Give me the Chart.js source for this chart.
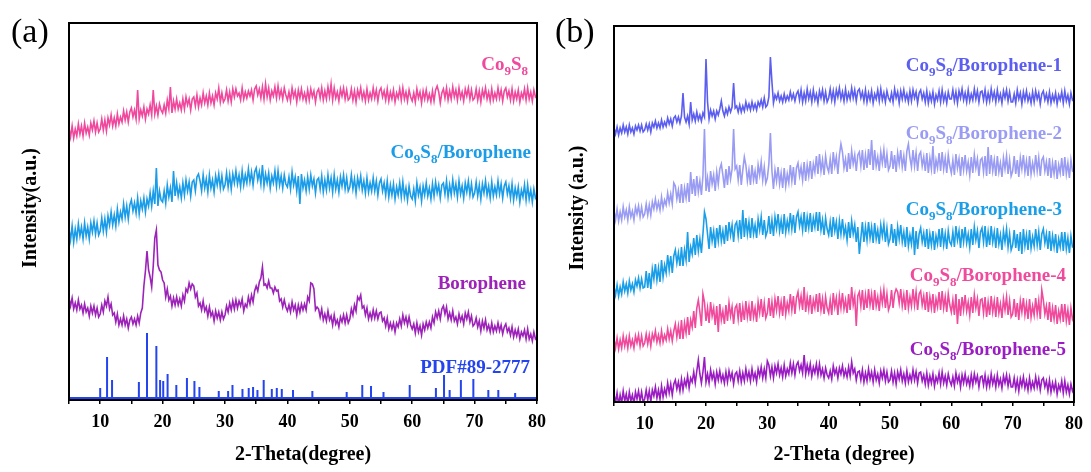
<!DOCTYPE html>
<html>
<head>
<meta charset="utf-8">
<script src="https://cdn.jsdelivr.net/npm/chart.js@4.4.0/dist/chart.umd.min.js"></script>
<style>
  html, body { margin: 0; padding: 0; background: #fff; }
  #wrap { position: relative; width: 1091px; height: 472px; overflow: hidden; }
  canvas { position: absolute; top: 0; }
  #chartA { left: 0; }
  #chartB { left: 545px; }
</style>
</head>
<body>
<div id="wrap">
  <canvas id="chartA" width="560" height="472"></canvas>
  <canvas id="chartB" width="546" height="472"></canvas>
</div>
<script>
// grille 2-theta : 5° a 80°, pas de 0.25° (20 valeurs par ligne = 5°)
const thetaStart = 5;
const thetaStep = 0.25;
const xTicks = [10, 20, 30, 40, 50, 60, 70, 80];

// (a) intensites relevees (unites arbitraires, decalees)
const co9s8 = [
  272,263,274,262,271,264,276,266,274,264,277,267,273,265,277,270,279,268,277,268,
  271,281,270,280,269,282,275,285,274,282,274,286,276,283,278,289,280,288,278,288,
  292,283,290,281,310,281,290,284,293,281,291,286,295,285,310,286,294,285,296,290,
  287,295,287,300,291,313,287,299,291,301,291,297,290,301,291,303,295,301,290,301,
  303,294,305,293,302,295,307,297,304,295,307,297,304,295,307,301,312,298,307,298,
  301,310,299,308,298,311,303,311,304,307,300,312,301,308,302,309,304,310,300,311,
  314,305,311,302,313,301,316,303,312,300,309,304,313,302,314,303,310,301,312,305,
  300,308,299,312,303,309,298,310,302,311,301,307,299,310,300,311,303,309,298,308,
  311,302,312,300,309,301,313,303,316,300,312,302,308,299,311,304,312,301,310,300,
  302,311,300,309,298,310,303,312,301,308,299,311,300,307,301,312,302,310,299,309,
  312,303,309,300,311,299,308,301,310,298,307,302,311,300,312,301,308,299,310,303,
  299,307,298,311,302,308,297,309,301,310,300,306,298,309,299,310,314,308,297,307,
  311,302,312,300,309,301,313,303,310,300,312,302,308,299,311,304,312,301,310,300,
  302,311,300,309,298,310,303,312,301,308,299,311,300,307,301,312,302,310,299,309,
  312,303,309,300,311,299,308,301,310,298,307,302,311,300,312,301,308,299,310,303,
  305
];
const co9s8Borophene = [
  171,160,174,158,171,161,176,164,173,161,177,164,173,161,177,168,179,166,177,165,
  169,182,169,181,168,184,175,188,175,185,174,191,178,188,181,196,183,194,181,195,
  200,189,197,187,202,186,199,191,202,188,201,194,207,194,209,196,232,194,209,200,
  198,209,197,215,203,212,198,229,204,217,204,213,202,217,205,220,209,218,204,218,
  220,209,223,226,219,209,225,212,221,208,225,212,220,208,224,215,226,212,224,211,
  215,227,213,225,211,226,217,229,216,225,213,229,215,225,217,231,218,228,215,228,
  232,220,228,216,235,214,226,217,227,212,224,217,229,214,229,215,224,212,225,216,
  213,223,211,228,215,223,209,224,196,226,212,220,209,223,211,225,214,221,207,220,
  222,211,224,208,220,210,225,212,222,208,225,211,220,208,223,214,225,211,222,209,
  213,225,211,221,207,222,213,224,210,219,207,222,208,217,209,222,209,219,205,217,
  221,209,217,205,219,203,215,205,216,201,213,205,217,203,218,203,212,200,214,204,
  201,211,199,217,205,213,199,214,205,217,204,212,201,216,204,218,207,215,202,215,
  217,206,219,203,215,205,220,207,216,203,219,206,214,202,217,208,219,205,216,203,
  207,218,204,215,201,216,207,219,205,214,202,218,204,213,205,219,206,216,202,214,
  218,206,214,202,216,200,212,203,213,198,210,203,215,200,215,201,210,198,211,202,
  205
];
const borophene = [
  102,94,102,91,97,90,100,91,95,87,96,88,92,84,94,87,94,85,92,83,
  86,95,88,99,94,103,91,96,85,87,78,86,75,81,75,84,75,81,72,80,
  83,76,81,75,84,77,87,92,114,129,149,130,123,113,134,162,170,135,130,128,
  120,117,103,111,100,104,94,102,95,103,95,101,94,105,99,111,108,117,111,116,
  114,103,107,94,97,90,99,89,93,84,93,84,88,79,89,82,88,80,88,81,
  85,94,88,97,90,99,91,100,92,99,94,101,89,96,93,103,96,105,98,109,
  114,109,118,122,133,115,116,112,119,112,112,107,113,109,110,99,101,93,100,93,
  89,95,88,98,90,95,85,95,88,96,90,96,90,103,99,117,116,111,90,93,
  91,83,91,80,86,79,89,80,84,75,85,76,80,73,83,78,85,77,85,77,
  81,91,85,95,89,103,100,105,92,94,85,92,81,87,81,90,82,89,81,87,
  88,79,82,74,82,71,77,71,77,68,77,73,81,74,85,77,83,75,83,75,
  71,76,67,77,68,74,65,76,70,78,72,78,72,83,77,88,82,89,81,91,
  94,86,93,81,87,80,89,79,83,76,86,79,84,76,87,81,88,78,84,74,
  76,82,73,79,69,79,72,80,70,75,68,77,68,74,69,77,69,75,66,73,
  76,68,72,65,73,63,70,64,71,61,68,64,70,61,71,61,66,59,68,61,
  63
];
// carte de reference PDF#89-2777
const pdfPeakPos = [10.0, 11.1, 11.9, 16.2, 17.5, 19.0, 19.6, 20.1, 20.8, 22.2, 23.9, 25.1, 25.9,
  29.0, 30.5, 31.2, 32.8, 33.8, 34.5, 35.2, 36.2, 37.5, 38.3, 39.1, 40.9, 44.0, 49.5, 52.0,
  53.4, 55.4, 59.6, 63.8, 65.1, 66.0, 67.8, 69.8, 72.2, 73.8, 76.5];
const pdfPeakHeight = [10, 41, 18, 16, 65, 52, 18, 17, 24, 13, 20, 17, 11,
  7, 7, 13, 9, 10, 11, 8, 18, 9, 10, 9, 8, 7, 6, 13,
  12, 6, 13, 10, 23, 8, 18, 19, 8, 8, 5];
const pdfBase = 2;

// (b) echantillons 1 a 5
const borophene1 = [
  274,268,275,267,274,269,277,270,275,268,277,270,274,268,276,272,277,271,277,270,
  272,278,272,278,270,279,275,281,274,279,274,282,275,280,276,284,278,283,276,284,
  286,280,285,279,286,309,285,280,286,278,300,282,288,281,290,282,287,281,289,285,
  343,300,283,292,286,291,283,291,287,293,301,291,286,293,288,295,290,295,319,294,
  296,290,297,290,296,291,300,293,298,292,300,293,298,292,300,296,302,295,304,295,
  297,305,345,320,299,307,303,309,301,306,300,308,301,306,302,310,303,308,301,308,
  311,302,312,300,309,301,313,303,310,300,312,302,308,299,311,304,312,301,310,300,
  304,313,302,311,300,312,305,314,303,310,301,313,302,309,303,314,304,312,301,311,
  313,304,310,301,312,300,309,302,311,299,308,303,312,301,313,302,309,300,311,304,
  301,309,300,313,304,310,299,311,303,312,302,308,300,311,301,312,304,310,299,309,
  312,303,309,300,311,299,308,301,310,298,307,302,311,300,312,301,308,299,310,303,
  303,312,301,310,299,311,304,313,302,309,300,312,301,308,302,313,303,311,300,310,
  311,302,312,300,309,301,313,303,310,300,312,302,308,299,311,304,312,301,310,300,
  300,308,299,312,303,309,298,310,302,311,301,307,299,310,300,311,303,309,298,308,
  311,302,308,300,310,299,307,301,309,298,307,302,310,299,311,301,307,298,309,302,
  304
];
const borophene2 = [
  191,182,193,181,190,182,195,185,192,182,195,185,191,182,195,188,196,185,195,185,
  188,198,187,197,187,200,193,203,193,200,192,205,194,202,197,209,199,208,198,219,
  216,203,212,199,218,199,214,204,219,200,230,208,223,206,226,210,221,207,226,273,
  211,224,210,231,218,227,211,230,218,233,238,227,214,233,217,236,223,233,273,233,
  236,222,237,217,232,245,237,221,232,217,237,222,231,218,237,227,240,222,235,219,
  224,238,269,231,213,232,221,235,218,229,214,234,216,228,219,237,221,235,217,234,
  239,226,235,222,240,221,237,226,241,223,238,230,246,228,248,231,242,227,246,235,
  230,243,228,250,236,245,228,247,258,250,234,243,230,249,233,251,238,247,231,247,
  250,236,252,232,247,234,253,237,262,232,252,236,245,231,250,239,252,234,248,232,
  236,251,233,247,230,249,238,252,235,246,231,251,258,244,235,252,236,249,231,247,
  250,236,245,231,249,229,244,233,256,228,242,234,249,231,250,233,244,229,247,236,
  229,242,227,248,234,243,226,245,232,247,231,240,227,245,229,247,234,243,226,242,
  244,230,246,226,255,228,247,231,242,226,246,230,239,225,244,233,246,228,242,226,
  231,246,228,242,225,244,233,247,230,241,226,246,228,239,230,247,231,244,226,242,
  245,231,240,226,244,224,239,228,242,223,237,229,244,226,245,228,239,224,242,231,
  230
];
const borophene3 = [
  115,107,117,106,115,108,120,111,118,109,121,112,118,110,122,116,124,114,123,114,
  115,131,114,129,113,133,123,138,122,134,120,142,125,137,129,147,132,146,129,146,
  152,139,149,136,155,136,152,142,170,140,155,148,164,147,167,151,163,149,168,190,
  183,168,153,175,161,171,154,174,161,177,161,171,158,177,161,180,167,177,160,177,
  180,166,182,163,192,165,184,168,180,164,184,168,177,164,183,172,185,167,182,166,
  171,186,168,182,166,185,174,188,171,182,168,188,170,181,172,189,173,187,169,185,
  190,176,185,172,190,170,185,174,189,170,184,175,190,171,190,172,182,167,184,173,
  167,180,165,185,171,180,163,181,168,183,167,175,162,180,164,181,168,177,160,175,
  148,164,180,160,175,162,180,164,175,159,179,163,172,158,177,166,178,160,174,158,
  163,178,159,173,156,175,163,177,160,170,155,175,156,167,158,175,147,171,153,168,
  174,160,169,155,173,153,168,157,171,152,166,158,173,155,174,157,168,153,171,160,
  157,170,155,176,162,171,154,173,160,175,159,168,155,173,157,175,162,171,154,170,
  174,160,176,155,170,157,176,160,170,154,174,158,167,152,171,160,173,155,168,152,
  157,172,154,168,151,170,148,173,156,167,152,172,154,165,156,173,157,170,152,168,
  173,159,168,153,171,151,166,155,168,149,163,155,170,151,170,153,164,149,166,155,
  155
];
const borophene4 = [
  63,54,64,53,62,54,66,56,64,54,66,56,62,54,66,59,67,56,66,56,
  59,68,58,67,56,68,62,71,60,67,59,71,60,67,62,73,63,71,61,71,
  78,65,76,63,82,63,79,69,85,67,82,75,91,74,94,102,90,76,108,100,
  81,94,79,100,86,94,77,96,70,98,82,91,78,97,81,99,86,95,78,94,
  97,83,99,80,95,82,101,85,96,81,101,85,94,80,100,89,103,85,99,84,
  89,104,86,100,84,103,92,106,89,100,86,106,88,99,91,108,92,106,88,104,
  110,96,106,92,115,90,105,93,107,88,102,94,108,90,109,92,103,88,105,94,
  89,102,87,109,95,104,87,106,94,109,93,102,89,108,92,115,97,106,76,106,
  110,96,112,92,107,94,113,97,108,92,112,96,105,91,110,99,112,94,108,92,
  97,112,94,108,113,110,99,113,96,107,92,112,94,105,96,113,97,110,92,108,
  111,97,106,92,110,90,105,94,108,89,103,95,110,92,111,94,105,90,108,97,
  90,102,87,108,78,103,86,105,92,107,91,100,87,105,89,107,94,103,86,102,
  103,89,105,85,100,87,106,90,101,85,105,89,98,84,103,92,105,87,101,85,
  88,103,85,99,82,101,90,104,87,98,83,103,85,96,87,104,88,101,83,112,
  102,88,96,82,100,80,94,83,97,78,91,83,98,80,98,81,92,77,94,83,
  87
];
const borophene5 = [
  8,-1,9,-3,7,-1,11,1,8,-2,10,1,7,-2,10,3,11,1,10,0,
  3,12,2,11,0,12,6,15,4,12,3,16,5,13,7,19,9,18,7,18,
  22,13,20,11,23,12,22,16,26,14,24,20,30,19,31,42,28,19,30,45,
  20,28,19,32,23,29,18,30,22,31,21,27,19,30,20,31,23,29,18,28,
  30,21,31,20,29,21,33,23,30,21,33,23,29,20,33,26,35,24,33,24,
  41,37,26,35,24,36,29,38,27,34,25,37,26,33,28,39,29,38,27,37,
  40,31,37,29,47,28,37,29,38,26,35,29,38,27,38,27,33,24,34,27,
  24,31,23,36,28,33,24,34,28,36,26,32,25,35,26,40,29,33,22,30,
  31,22,32,20,29,21,33,23,30,20,32,22,28,19,31,24,32,21,30,20,
  22,31,20,29,18,30,23,32,21,28,19,31,20,27,21,32,22,30,19,29,
  30,21,27,18,29,17,26,19,28,16,25,20,29,18,30,19,26,17,28,21,
  17,25,16,29,20,26,15,27,19,28,18,24,16,27,17,28,20,26,15,25,
  26,17,27,15,24,16,28,18,25,15,27,17,23,14,26,19,27,16,25,15,
  15,24,13,22,11,23,16,25,14,21,12,24,13,20,14,25,15,23,12,22,
  24,15,21,11,22,10,19,12,20,8,17,12,21,9,21,10,17,8,18,11,
  15
];

const SERIF = '"Liberation Serif", "Times New Roman", serif';

function toPoints(values) {
  return values.map((v, i) => ({ x: thetaStart + i * thetaStep, y: v }));
}

function pdfSticks() {
  const pts = [{ x: 5, y: pdfBase }];
  pdfPeakPos.forEach((p, i) => {
    pts.push({ x: p, y: pdfBase }, { x: p, y: pdfBase + pdfPeakHeight[i] }, { x: p, y: pdfBase });
  });
  pts.push({ x: 80, y: pdfBase });
  return pts;
}

function lineSet(label, data, color, width) {
  return {
    label: label,
    data: data,
    borderColor: color,
    backgroundColor: color,
    borderWidth: width || 1.6,
    pointRadius: 0,
    tension: 0,
    fill: false
  };
}

// Co9S8 -> Co + indice 9 + S + indice 8
function formulaParts(text) {
  const m = text.match(/^Co9S8(.*)$/);
  if (!m) return [[text, false]];
  return [['Co', false], ['9', true], ['S', false], ['8', true], [m[1], false]].filter(p => p[0]);
}

function drawFormulaLabel(ctx, text, color, right, y) {
  const parts = formulaParts(text);
  const mainFont = 'bold 19px ' + SERIF;
  const subFont = 'bold 13px ' + SERIF;
  ctx.save();
  let total = 0;
  parts.forEach(p => {
    ctx.font = p[1] ? subFont : mainFont;
    total += ctx.measureText(p[0]).width;
  });
  let x = right - total;
  ctx.fillStyle = color;
  ctx.textAlign = 'left';
  ctx.textBaseline = 'alphabetic';
  parts.forEach(p => {
    ctx.font = p[1] ? subFont : mainFont;
    ctx.fillText(p[0], x, y + 6 + (p[1] ? 5 : 0));
    x += ctx.measureText(p[0]).width;
  });
  ctx.restore();
}

const panelDecor = {
  id: 'panelDecor',
  afterDraw(chart, args, opts) {
    const ctx = chart.ctx;
    const a = chart.chartArea;
    ctx.save();
    ctx.strokeStyle = '#000';
    ctx.lineWidth = 2;
    ctx.strokeRect(a.left, a.top, a.right - a.left, a.bottom - a.top);

    ctx.fillStyle = '#000';
    ctx.font = '34px ' + SERIF;
    ctx.textAlign = 'left';
    ctx.textBaseline = 'alphabetic';
    ctx.fillText(opts.letter, opts.letterX, opts.letterY);

    ctx.translate(opts.yTitleX, opts.yTitleY);
    ctx.rotate(-Math.PI / 2);
    ctx.font = 'bold 20px ' + SERIF;
    ctx.textAlign = 'center';
    ctx.textBaseline = 'middle';
    ctx.fillText(opts.yTitle, 0, 0);
    ctx.restore();

    opts.labels.forEach(l => drawFormulaLabel(ctx, l.text, l.color, l.right, l.y));
  }
};

function makeOptions(cfg) {
  return {
    responsive: false,
    animation: false,
    events: [],
    layout: { padding: { left: cfg.padLeft, right: cfg.padRight, top: cfg.padTop, bottom: 0 } },
    plugins: {
      legend: { display: false },
      tooltip: { enabled: false },
      panelDecor: cfg.decor
    },
    scales: {
      x: {
        type: 'linear',
        min: 5,
        max: 80,
        afterFit: scale => { scale.height = cfg.xHeight; },
        ticks: {
          stepSize: 5,
          autoSkip: false,
          maxRotation: 0,
          padding: 8,
          color: '#000',
          font: { family: SERIF, size: 18, weight: 'bold' },
          callback: v => (xTicks.includes(v) ? String(v) : '')
        },
        grid: {
          display: true,
          drawOnChartArea: false,
          drawTicks: true,
          tickLength: 4,
          color: '#000',
          lineWidth: 1.5
        },
        border: { display: true, color: '#000', width: 2 },
        title: {
          display: true,
          text: cfg.xTitle,
          color: '#000',
          font: { family: SERIF, size: 20, weight: 'bold' },
          padding: { top: 0, bottom: 5 }
        }
      },
      y: {
        display: false,
        min: 0,
        max: cfg.yMax
      }
    }
  };
}

new Chart(document.getElementById('chartA'), {
  type: 'line',
  data: {
    datasets: [
      lineSet('Co9S8', toPoints(co9s8), '#f0489c'),
      lineSet('Co9S8/Borophene', toPoints(co9s8Borophene), '#1a9ce8'),
      lineSet('Borophene', toPoints(borophene), '#9c22b8'),
      lineSet('PDF#89-2777', pdfSticks(), '#2444ee', 2)
    ]
  },
  options: makeOptions({
    padLeft: 69, padRight: 23, padTop: 23, xHeight: 72, yMax: 377,
    xTitle: '2-Theta(degree)',
    decor: {
      letter: '(a)', letterX: 11, letterY: 42,
      yTitle: 'Intensity(a.u.)', yTitleX: 31, yTitleY: 208,
      labels: [
        { text: 'Co9S8', color: '#f0489c', right: 528, y: 64 },
        { text: 'Co9S8/Borophene', color: '#1a9ce8', right: 531, y: 152 },
        { text: 'Borophene', color: '#9c22b8', right: 526, y: 283 },
        { text: 'PDF#89-2777', color: '#2444ee', right: 530, y: 367 }
      ]
    }
  }),
  plugins: [panelDecor]
});

const colorsB = ['#5c5ef0', '#9a9cf4', '#1a9ee8', '#f04a9c', '#9a1cc2'];
new Chart(document.getElementById('chartB'), {
  type: 'line',
  data: {
    datasets: [
      lineSet('Co9S8/Borophene-1', toPoints(borophene1), colorsB[0]),
      lineSet('Co9S8/Borophene-2', toPoints(borophene2), colorsB[1]),
      lineSet('Co9S8/Borophene-3', toPoints(borophene3), colorsB[2]),
      lineSet('Co9S8/Borophene-4', toPoints(borophene4), colorsB[3]),
      lineSet('Co9S8/Borophene-5', toPoints(borophene5), colorsB[4])
    ]
  },
  options: makeOptions({
    padLeft: 69, padRight: 11, padTop: 26, xHeight: 70, yMax: 376,
    xTitle: '2-Theta (degree)',
    decor: {
      letter: '(b)', letterX: 10, letterY: 42,
      yTitle: 'Intensity (a.u.)', yTitleX: 33, yTitleY: 208,
      labels: [
        { text: 'Co9S8/Borophene-1', color: colorsB[0], right: 517, y: 65 },
        { text: 'Co9S8/Borophene-2', color: colorsB[1], right: 517, y: 133 },
        { text: 'Co9S8/Borophene-3', color: colorsB[2], right: 517, y: 209 },
        { text: 'Co9S8/Borophene-4', color: colorsB[3], right: 521, y: 275 },
        { text: 'Co9S8/Borophene-5', color: colorsB[4], right: 521, y: 349 }
      ]
    }
  }),
  plugins: [panelDecor]
});
</script>
</body>
</html>
